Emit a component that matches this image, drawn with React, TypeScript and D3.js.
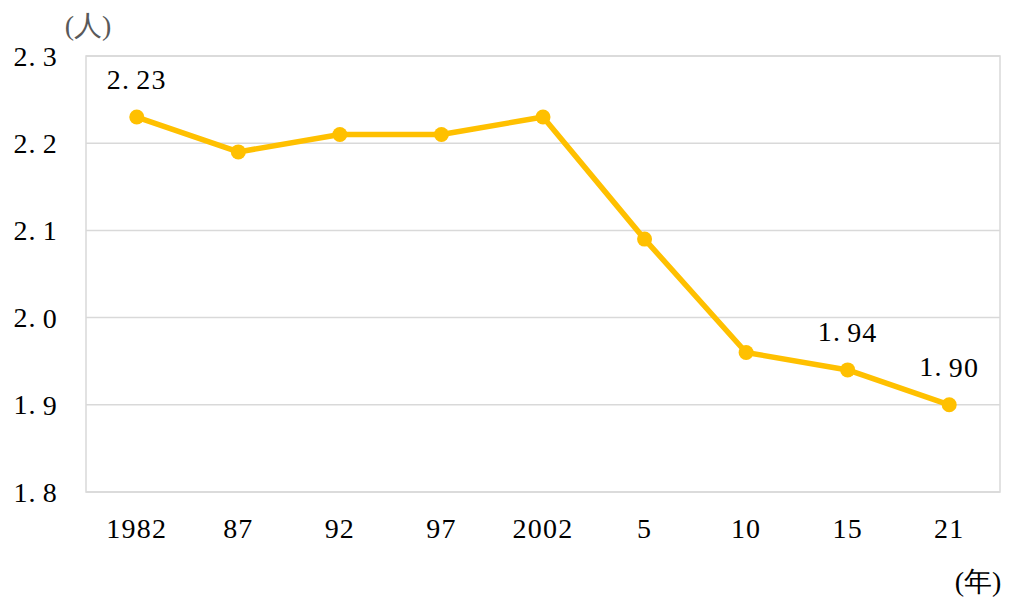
import React from "react";
import * as d3 from "d3";

const categories = ["1982", "87", "92", "97", "2002", "5", "10", "15", "21"];
const values = [2.23, 2.19, 2.21, 2.21, 2.23, 2.09, 1.96, 1.94, 1.9];
const labeled = [0, 7, 8];
const yTicks = [1.8, 1.9, 2.0, 2.1, 2.2, 2.3];

const W = 1009;
const H = 598;
const left = 86;
const right = 1000;
const top = 56;
const bottom = 492;
const FONT = "'Liberation Serif', 'DejaVu Serif', serif";
const COLOR = "#FFC000";

function Num({ s, x, y, anchor }: { s: string; x: number; y: number; anchor: string }) {
  const [a, b] = s.split(".");
  return (
    <text x={x} y={y} textAnchor={anchor} dominantBaseline="central" style={{ fontFamily: FONT }} fontSize={28} letterSpacing={1.2} fill="#000">
      {a + "."}
      <tspan dx={6}>{b}</tspan>
    </text>
  );
}

export default function App() {
  const x = d3.scaleBand<string>().domain(categories).range([left, right]);
  const y = d3.scaleLinear().domain([1.8, 2.3]).range([bottom, top]);
  const cx = (i: number) => (x(categories[i]) ?? 0) + x.bandwidth() / 2;
  const line = d3
    .line<number>()
    .x((_, i) => cx(i))
    .y((d) => y(d));

  return (
    <div style={{ position: "absolute", left: 0, top: 0 }}>
      <svg width={W} height={H} style={{ display: "block", background: "#fff" }}>
        {yTicks.map((t) => (
          <line key={t} x1={left} x2={right} y1={y(t)} y2={y(t)} stroke="#d9d9d9" strokeWidth={1.5} />
        ))}
        <rect x={left} y={top} width={right - left} height={bottom - top} fill="none" stroke="#d9d9d9" strokeWidth={1.5} />
        {yTicks.map((t) => (
          <Num key={t} s={t.toFixed(1)} x={58} y={y(t)} anchor="end" />
        ))}
        {categories.map((c, i) => (
          <text key={c} x={cx(i)} y={528} textAnchor="middle" dominantBaseline="central" style={{ fontFamily: FONT }} fontSize={28} letterSpacing={1.2} fill="#000">
            {c}
          </text>
        ))}
        <path d={line(values) ?? ""} fill="none" stroke={COLOR} strokeWidth={5.5} strokeLinejoin="round" />
        {values.map((v, i) => (
          <circle key={i} cx={cx(i)} cy={y(v)} r={7.5} fill={COLOR} />
        ))}
        {labeled.map((i) => (
          <Num key={i} s={values[i].toFixed(2)} x={cx(i)} y={y(values[i]) - 38} anchor="middle" />
        ))}
        <text x={88} y={25} textAnchor="middle" dominantBaseline="central" style={{ fontFamily: FONT }} fontSize={28} fill="#595959">
          (人)
        </text>
        <text x={978} y={581} textAnchor="middle" dominantBaseline="central" style={{ fontFamily: FONT }} fontSize={28} fill="#000">
          (年)
        </text>
      </svg>
    </div>
  );
}
